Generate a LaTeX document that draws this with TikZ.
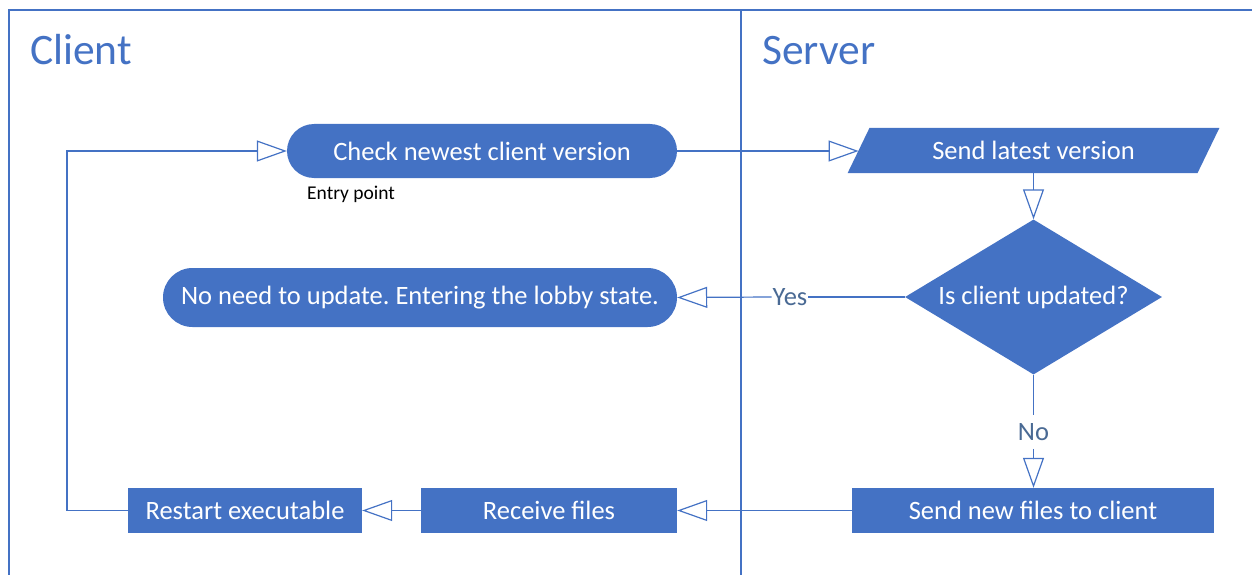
\documentclass[tikz,border=0pt]{standalone}
\usepackage{fontspec}
\setmainfont{Carlito}
\usetikzlibrary{arrows.meta,shapes.geometric,calc}
\definecolor{accent}{HTML}{4472C4}
\definecolor{labelblue}{HTML}{4A6A94}
\frenchspacing

\begin{document}
\begin{tikzpicture}[x=1pt,y=-1pt,
  font=\fontsize{26.5}{30}\selectfont,
  wire/.style={draw=accent, line width=1.2pt},
  flow/.style={wire, -{Triangle[open, length=30pt, width=21pt]}},
  procbox/.style={fill=accent, text=white, inner sep=0pt, minimum height=45pt},
  terminal/.style={fill=accent, text=white, inner sep=0pt},
  edgelabel/.style={text=labelblue, fill=white, inner xsep=1pt, inner ysep=1pt},
  lanetitle/.style={text=accent, anchor=base west, inner sep=0pt, font=\fontsize{43.5}{50}\selectfont},
]
\useasboundingbox (0,0) rectangle (1252,575);

% swimlane frame
\draw[wire] (9,575) -- (9,10) -- (1252,10);
\draw[wire] (741,10) -- (741,575);
\node[lanetitle] (client) at (30,65) {Client};
\node[lanetitle] (server) at (762,65) {Server};

% client lane
\node[terminal, minimum width=390pt, minimum height=54pt, rounded corners=27pt]
  (check) at (482,151) {Check newest client version};
\node[anchor=base west, inner sep=0pt, font=\fontsize{19.5}{22}\selectfont]
  (entry) at (307,199) {Entry point};
\node[terminal, minimum width=514pt, minimum height=59pt, rounded corners=29.5pt]
  (noneed) at (420,297.5) {No need to update. Entering the lobby state.};
\node[procbox, minimum width=234pt] (restart) at (245,510.5) {Restart executable};
\node[procbox, minimum width=256pt] (receive) at (549,510.5) {Receive files};

% server lane: data (parallelogram) step
\node[minimum width=349.5pt, minimum height=45pt, inner sep=0pt] (send) at (1033.5,150.5) {};
\fill[accent] ($(send.south west)+(-11,0)$) -- ($(send.north west)+(11,0)$)
  -- ($(send.north east)+(11,0)$) -- ($(send.south east)+(-11,0)$) -- cycle;
\node[text=white, inner sep=0pt] (sendtext) at (send.center) {Send latest version};

\node[diamond, fill=accent, text=white, inner sep=0pt, aspect=1.66,
  minimum width=257pt, minimum height=155pt] (updated) at (1033.5,297) {Is client updated?};
\node[procbox, minimum width=362pt] (sendfiles) at (1033,510.5) {Send new files to client};

% labels on the decision branches
\node[edgelabel] (yes) at (790,297) {Yes};
\node[edgelabel, inner ysep=8pt] (no) at (1033.5,432) {No};
\coordinate (loop) at (67,510.5);

% connectors
\draw[flow] (check.east) -- (check.east -| send.west);
\draw[flow] (send.south) -- (updated.north);
\draw[wire] (updated.west) -- (yes.east);
\draw[flow] (yes.west) -- (noneed.east);
\draw[wire] (updated.south) -- (no.north);
\draw[flow] (no.south) -- (no.south |- sendfiles.north);
\draw[flow] (sendfiles.west) -- (receive.east);
\draw[flow] (receive.west) -- (restart.east);
\draw[flow] (restart.west) -- (loop) |- (check.west);
\end{tikzpicture}
\end{document}
